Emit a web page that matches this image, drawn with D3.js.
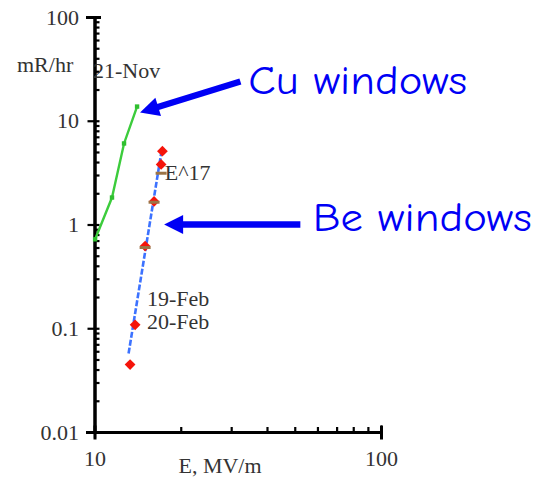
<!DOCTYPE html>
<html>
<head>
<meta charset="utf-8">
<script src="https://cdn.jsdelivr.net/npm/d3@7"></script>
<style>
  body { margin: 0; background: #fff; }
  svg { display: block; }
</style>
</head>
<body>
<svg id="graph"></svg>
<script>
// Cu windows, 21-Nov
var cuE = [10.05, 11.51, 12.68, 14.08];
var cuDose = [0.72, 1.82, 6.04, 13.7];

// Be windows, 19-Feb / 20-Feb (red diamonds)
var beE = [17.26, 17.08, 16.14, 15.02, 13.86, 13.31];
var beDose = [5.09, 3.79, 1.67, 0.62, 0.108, 0.0447];

// second Be set (tan dashes)
var be2E = [17.08, 16.14, 15.02];
var be2Dose = [3.12, 1.64, 0.60];

// E^17 fit line end points
var fitE = [13.15, 17.1];
var fitDose = [0.057, 4.9];

var xTicks = [10, 100];
var xTickLabels = ["10", "100"];
var yTicks = [0.01, 0.1, 1, 10, 100];
var yTickLabels = ["0.01", "0.1", "1", "10", "100"];

function setGraph(){
    w = 535
    h = 477

    var svg = d3.select("#graph")
        .attr("width", w)
        .attr("height", h);

    var x = d3.scaleLog().domain([10, 100]).range([94.5, 381]);
    var y = d3.scaleLog().domain([0.01, 100]).range([432, 17]);

    var serif = "'Liberation Serif', 'Times New Roman', serif";
    var comic = "'Comic Sans MS', 'Comic Neue', 'DejaVu Sans', sans-serif";
    var fs = 22;

    // minor ticks (inside)
    var minorX = [], minorY = [];
    for (var k = 2; k < 10; k++) minorX.push(k * 10);
    [0.01, 0.1, 1, 10].forEach(function(d){
        for (var k = 1; k < 10; k++) minorY.push(d * k);
    });
    minorY.push(100);

    var gxMinor = svg.append("g")
        .attr("transform", "translate(0,432)")
        .call(d3.axisBottom(x).tickValues(minorX).tickSize(-5).tickFormat(""));
    var gyMinor = svg.append("g")
        .attr("transform", "translate(94.5,0)")
        .call(d3.axisLeft(y).tickValues(minorY).tickSize(-5).tickFormat(""));

    var gx = svg.append("g")
        .attr("transform", "translate(0,432)")
        .call(d3.axisBottom(x).tickValues(xTicks).tickSize(6).tickPadding(12)
            .tickFormat(function(d, i){ return xTickLabels[i]; }));
    var gy = svg.append("g")
        .attr("transform", "translate(94.5,0)")
        .call(d3.axisLeft(y).tickValues(yTicks).tickSize(7).tickPadding(8.5)
            .tickFormat(function(d, i){ return yTickLabels[i]; }));

    // up-ticks for x majors
    svg.append("g")
        .attr("transform", "translate(0,432)")
        .call(d3.axisBottom(x).tickValues(xTicks).tickSize(-6).tickFormat(""));

    [gxMinor, gyMinor, gx, gy].forEach(function(g){
        g.selectAll(".domain").attr("stroke", "#000").attr("stroke-width", 3);
        g.selectAll(".tick line").attr("stroke", "#000").attr("stroke-width", 2.2);
        g.selectAll("text")
            .attr("font-family", serif)
            .attr("font-size", fs)
            .attr("fill", "#333");
    });
    svg.selectAll(".domain").attr("stroke-linecap", "square");

    // axis titles
    svg.append("text")
        .attr("x", 17).attr("y", 72)
        .attr("font-family", serif).attr("font-size", fs).attr("fill", "#333")
        .text("mR/hr");
    svg.append("text")
        .attr("text-anchor", "middle")
        .attr("x", 220).attr("y", 473)
        .attr("font-family", serif).attr("font-size", fs).attr("fill", "#333")
        .text("E, MV/m");

    // Cu curve
    var cuLine = d3.line()
        .x(function(d, i){ return x(cuE[i]); })
        .y(function(d, i){ return y(cuDose[i]); });
    svg.append("path")
        .attr("d", cuLine(cuE))
        .attr("fill", "none")
        .attr("stroke", "#3ccc3c")
        .attr("stroke-width", 2.4);
    svg.selectAll(".cu")
        .data(cuE).enter().append("rect")
        .attr("x", function(d){ return x(d) - 2.2; })
        .attr("y", function(d, i){ return y(cuDose[i]) - 2.2; })
        .attr("width", 4.4).attr("height", 4.4)
        .attr("fill", "#2fbf2f");

    // E^17 fit
    var fitLine = d3.line()
        .x(function(d, i){ return x(fitE[i]); })
        .y(function(d, i){ return y(fitDose[i]); });
    svg.append("path")
        .attr("d", fitLine(fitE))
        .attr("fill", "none")
        .attr("stroke", "#3c72ff")
        .attr("stroke-width", 2.6)
        .attr("stroke-dasharray", "6,2");

    // red diamonds
    svg.selectAll(".be")
        .data(beE).enter().append("rect")
        .attr("x", -3.8).attr("y", -3.8)
        .attr("width", 7.6).attr("height", 7.6)
        .attr("transform", function(d, i){
            return "translate(" + x(d) + "," + y(beDose[i]) + ") rotate(45)";
        })
        .attr("fill", "#f5140a");

    // tan dashes
    svg.selectAll(".be2")
        .data(be2E).enter().append("rect")
        .attr("x", function(d){ return x(d) - 5.5; })
        .attr("y", function(d, i){ return y(be2Dose[i]) - 1.5; })
        .attr("width", 11).attr("height", 3)
        .attr("fill", "#9c7446");

    // small labels
    var labels = [
        {t: "21-Nov", e: 10.0, v: 30, px: -1.5},
        {t: "E^17", e: 17.6, v: 3.15, px: 0},
        {t: "19-Feb", e: 15.25, v: 0.19, px: 0},
        {t: "20-Feb", e: 15.25, v: 0.115, px: 0}
    ];
    svg.selectAll(".lab")
        .data(labels).enter().append("text")
        .attr("x", function(d){ return x(d.e) + d.px; })
        .attr("y", function(d){ return y(d.v) + 7; })
        .attr("font-family", serif).attr("font-size", fs).attr("fill", "#333")
        .text(function(d){ return d.t; });

    // big annotations with arrows
    var notes = [
        {t: "Cu windows", e: 34.4, v: 18.3, len: 219,
         from: [32.3, 23.9], to: [14.42, 12.0]},
        {t: "Be windows", e: 57.8, v: 0.87, len: 219,
         from: [52.3, 1.0], to: [17.5, 1.0]}
    ];
    notes.forEach(function(n){
        var x0 = x(n.from[0]), y0 = y(n.from[1]);
        var x1 = x(n.to[0]), y1 = y(n.to[1]);
        var a = Math.atan2(y1 - y0, x1 - x0);
        var hl = 19, hw = 9.5;
        var bx = x1 - hl * Math.cos(a), by = y1 - hl * Math.sin(a);
        svg.append("line")
            .attr("x1", x0).attr("y1", y0)
            .attr("x2", bx + 2 * Math.cos(a)).attr("y2", by + 2 * Math.sin(a))
            .attr("stroke", "#0000f5").attr("stroke-width", 6.5);
        svg.append("path")
            .attr("d", "M" + x1 + "," + y1 +
                "L" + (bx - hw * Math.sin(a)) + "," + (by + hw * Math.cos(a)) +
                "L" + (bx + hw * Math.sin(a)) + "," + (by - hw * Math.cos(a)) + "Z")
            .attr("fill", "#0000f5");
        svg.append("text")
            .attr("x", x(n.e)).attr("y", y(n.v))
            .attr("font-family", comic).attr("font-size", 40)
            .attr("fill", "#0000f5")
            .attr("textLength", n.len).attr("lengthAdjust", "spacingAndGlyphs")
            .text(n.t);
    });
}

setGraph();
</script>
</body>
</html>
